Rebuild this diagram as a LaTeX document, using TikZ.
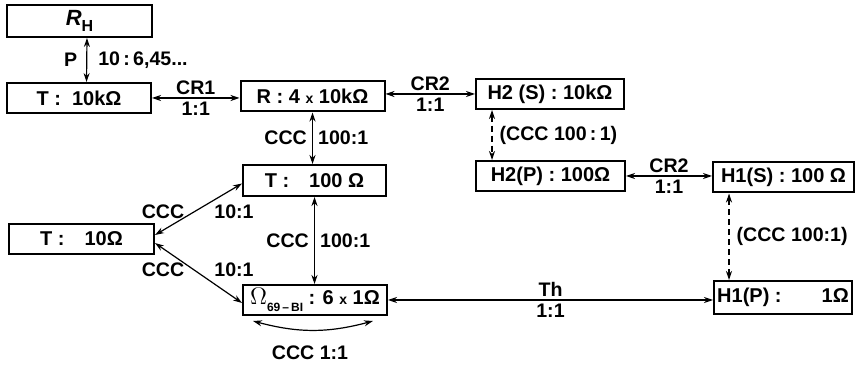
\documentclass[tikz,border=0pt]{standalone}
\usepackage{fontspec}
\setmainfont{Liberation Sans}
\usetikzlibrary{arrows.meta,positioning}

\begin{document}
\begin{tikzpicture}[x=0.5pt,y=-0.5pt,
    font=\fontsize{10}{11}\selectfont\bfseries,
    box/.style={draw, line width=1pt, minimum height=15pt, inner sep=1.5pt},
    lbl/.style={font=\fontsize{9.8}{10}\selectfont\bfseries, inner sep=1.5pt},
    link/.style={{Stealth[length=4.5pt,width=3pt]}-{Stealth[length=4.5pt,width=3pt]}, line width=0.6pt},
    dlink/.style={link, dash pattern=on 3pt off 2pt}]
  \useasboundingbox (0,0) rectangle (861,367);

  % Boxes
  \node[box, minimum width=72.5pt, minimum height=16pt] (rh) at (79.5,21)
    {\fontsize{11}{11}\selectfont\itshape R\raisebox{-0.5ex}{\upshape\fontsize{8}{8}\selectfont H}};
  \node[box, minimum width=72pt] (t10k) at (79,98) {T :\ \ 10kΩ};
  \node[box, minimum width=72pt] (r) at (312.5,96.5) {R : 4 {\fontsize{7}{7}\selectfont x} 10kΩ};
  \node[box, minimum width=74pt] (h2s) at (550,94) {H2 (S) : 10kΩ};
  \node[box, minimum width=74.5pt] (h2p) at (550.5,176) {H2(P) : 100Ω};
  \node[box, minimum width=70.5pt] (h1s) at (783.5,177.5) {H1(S) : 100 Ω};
  \node[box, minimum width=71.5pt, minimum height=15.5pt] (t100) at (314.5,180.5) {T :\quad 100 Ω};
  \node[box, minimum width=72.5pt] (t10) at (81.5,239) {T :\quad 10Ω};
  \node[box, minimum width=72pt] (om) at (315,300)
    {{\fontsize{12.5}{12}\selectfont$\Omega$}\raisebox{-0.6ex}{\fontsize{6}{6}\selectfont 69\,--\,BI} : 6 {\fontsize{7}{7}\selectfont x} 1Ω};
  \node[box, minimum width=69pt, minimum height=16.5pt] (h1p) at (783,297.5) {H1(P) :\qquad 1Ω};

  % Links
  \draw[link] ([xshift=3.75pt]rh.south) -- ([xshift=3.75pt]t10k.north)
    node[lbl, midway, left=3pt] (lp) {P}
    node[lbl, midway, right=4pt] (lpr) {10\,:\,6,45...};
  \draw[link] (t10k.east) -- (r.west |- t10k.east)
    node[lbl, midway, above] (cr1) {CR1}
    node[lbl, midway, below] (cr1r) {1:1};
  \draw[link] (r.east |- h2s.west) -- (h2s.west)
    node[lbl, midway, above] (cr2) {CR2}
    node[lbl, midway, below] (cr2r) {1:1};
  \draw[link] (r.south) -- (r.south |- t100.north)
    node[lbl, midway, left=1pt] (rc) {CCC}
    node[lbl, midway, right=1pt] (rcr) {100:1};
  \draw[dlink] ([xshift=8.5pt]h2s.south west) -- ([xshift=8.5pt]h2p.north west)
    node[lbl, midway, right=2pt] (hc) {(CCC 100\,:\,1)};
  \draw[link] (h2p.east) -- (h2p.east -| h1s.west)
    node[lbl, midway, above] (cr2b) {CR2}
    node[lbl, midway, below] (cr2br) {1:1};
  \draw[dlink] ([xshift=8.5pt]h1s.south west) -- ([xshift=8pt]h1p.north west)
    node[lbl, midway, right=2pt] (hc2) {(CCC 100:1)};
  \draw[link] (t100.south) -- (t100.south |- om.north)
    node[lbl, midway, left=1pt] (tc) {CCC}
    node[lbl, midway, right=1pt] (tcr) {100:1};
  \draw[link] ([yshift=2pt]t10.east) -- ([yshift=-1.5pt]t100.west);
  \draw[link] ([yshift=-2pt]t10.east) -- ([yshift=-1.5pt]om.west);
  \draw[link] (om.east) -- (om.east -| h1p.west)
    node[lbl, midway, above] (th) {Th}
    node[lbl, midway, below] (thr) {1:1};
  \draw[link] ([xshift=5.5pt,yshift=-2.5pt]om.south west) to[bend right=15]
    ([xshift=-7.5pt,yshift=-2.5pt]om.south east);

  % Diagonal and loop labels
  \node[lbl] (dc1) at (163,212) {CCC};
  \node[lbl] (dr1) at (234,212) {10:1};
  \node[lbl] (dc2) at (163,270) {CCC};
  \node[lbl] (dr2) at (234,270) {10:1};
  \node[lbl] (loop) at (310,353) {CCC 1:1};
\end{tikzpicture}
\end{document}
